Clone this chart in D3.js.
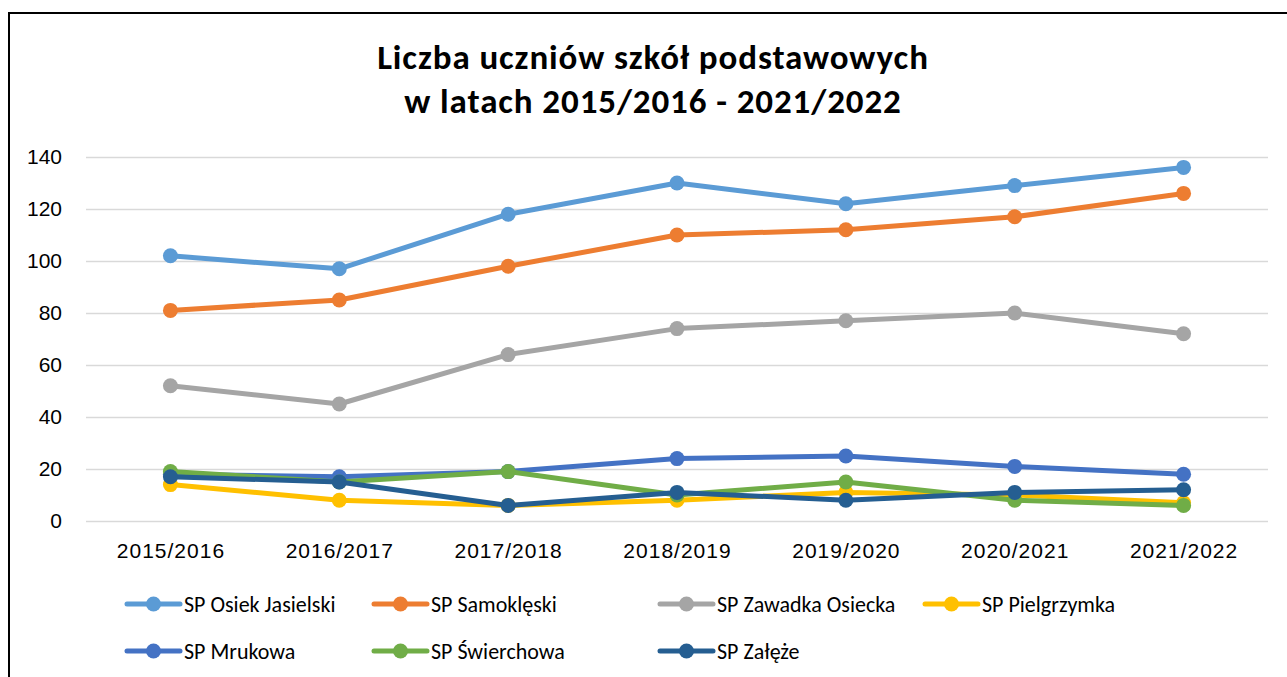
<!DOCTYPE html>
<html>
<head>
<meta charset="utf-8">
<script src="https://cdn.jsdelivr.net/npm/d3@7"></script>
<style>
  html, body { margin: 0; padding: 0; background: #fff; }
  svg { display: block; font-family: Carlito, Calibri, Lato, "Open Sans", sans-serif; }
</style>
</head>
<body>
<svg id="chart" width="1287" height="677"></svg>
<script>
const years = ['2015/2016', '2016/2017', '2017/2018', '2018/2019', '2019/2020', '2020/2021', '2021/2022'];
const yTicks = [0, 20, 40, 60, 80, 100, 120, 140];

const osiek = [102, 97, 118, 130, 122, 129, 136];
const samoklecki = [81, 85, 98, 110, 112, 117, 126];
const zawadka = [52, 45, 64, 74, 77, 80, 72];
const pielgrzymka = [14, 8, 6, 8, 11, 10, 7];
const mrukowa = [18, 17, 19, 24, 25, 21, 18];
const swierchowa = [19, 15, 19, 10, 15, 8, 6];
const zaleze = [17, 15, 6, 11, 8, 11, 12];

const seriesNames = ['SP Osiek Jasielski', 'SP Samoklęski', 'SP Zawadka Osiecka', 'SP Pielgrzymka',
  'SP Mrukowa', 'SP Świerchowa', 'SP Załęże'];
const seriesValues = [osiek, samoklecki, zawadka, pielgrzymka, mrukowa, swierchowa, zaleze];
const colors = ['#5B9BD5', '#ED7D31', '#A5A5A5', '#FFC000', '#4472C4', '#70AD47', '#255E91'];

const series = seriesNames.map((name, i) => ({name, values: seriesValues[i], color: colors[i]}));

const svg = d3.select('#chart');

// chart frame (only left and top edges are visible in the picture)
svg.append('path')
  .attr('d', 'M9,677 L9,13 L1287,13')
  .attr('fill', 'none')
  .attr('stroke', '#000')
  .attr('stroke-width', 2);

const plot = {left: 86, right: 1268, top: 157, bottom: 521};

const x = d3.scalePoint()
  .domain(years)
  .range([plot.left, plot.right])
  .padding(0.5);

const y = d3.scaleLinear()
  .domain([0, 140])
  .range([plot.bottom, plot.top]);

// title
const title = svg.append('text')
  .attr('x', 653)
  .attr('text-anchor', 'middle')
  .attr('font-weight', 'bold')
  .attr('font-size', 35)
  .attr('letter-spacing', 0.9)
  .attr('fill', '#000');
title.append('tspan').attr('x', 653).attr('y', 69).text('Liczba uczniów szkół podstawowych');
title.append('tspan').attr('x', 653).attr('y', 113).text('w latach 2015/2016 - 2021/2022');

// gridlines + y labels
const yAxis = svg.append('g')
  .attr('transform', `translate(${plot.left},0)`)
  .call(d3.axisLeft(y).tickValues(yTicks).tickSize(-(plot.right - plot.left)).tickPadding(24).tickFormat(d3.format('d')));
yAxis.select('.domain').remove();
yAxis.selectAll('.tick line').attr('stroke', '#D9D9D9').attr('stroke-width', 1.5);
yAxis.selectAll('.tick text')
  .attr('font-size', 21)
  .attr('fill', '#000')
  .style('font-family', 'inherit');

// x labels
const xAxis = svg.append('g')
  .attr('transform', `translate(0,${plot.bottom})`)
  .call(d3.axisBottom(x).tickSize(0).tickPadding(22));
xAxis.select('.domain').remove();
xAxis.selectAll('.tick text')
  .attr('font-size', 21)
  .attr('letter-spacing', 1)
  .attr('fill', '#000')
  .style('font-family', 'inherit');

// lines
const line = d3.line()
  .x((d, i) => x(years[i]))
  .y(d => y(d));

const groups = svg.append('g').selectAll('g.series')
  .data(series)
  .join('g')
  .attr('class', 'series');

groups.append('path')
  .attr('d', d => line(d.values))
  .attr('fill', 'none')
  .attr('stroke', d => d.color)
  .attr('stroke-width', 5)
  .attr('stroke-linejoin', 'round')
  .attr('stroke-linecap', 'round');

groups.selectAll('circle')
  .data(d => d.values.map((v, i) => ({v, i, color: d.color})))
  .join('circle')
  .attr('cx', d => x(years[d.i]))
  .attr('cy', d => y(d.v))
  .attr('r', 7.5)
  .attr('fill', d => d.color);

// legend
const legendPos = [
  [127, 604], [374, 604], [660, 604], [925, 604],
  [127, 651], [374, 651], [660, 651]
];

const legend = svg.append('g').selectAll('g.legend')
  .data(series)
  .join('g')
  .attr('class', 'legend')
  .attr('transform', (d, i) => `translate(${legendPos[i][0]},${legendPos[i][1]})`);

legend.append('line')
  .attr('x1', 0).attr('x2', 53)
  .attr('y1', 0).attr('y2', 0)
  .attr('stroke', d => d.color)
  .attr('stroke-width', 5)
  .attr('stroke-linecap', 'round');

legend.append('circle')
  .attr('cx', 26.5).attr('cy', 0).attr('r', 7.5)
  .attr('fill', d => d.color);

legend.append('text')
  .attr('x', 57)
  .attr('y', 8)
  .attr('font-size', 22)
  .attr('fill', '#000')
  .text(d => d.name);
</script>
</body>
</html>
